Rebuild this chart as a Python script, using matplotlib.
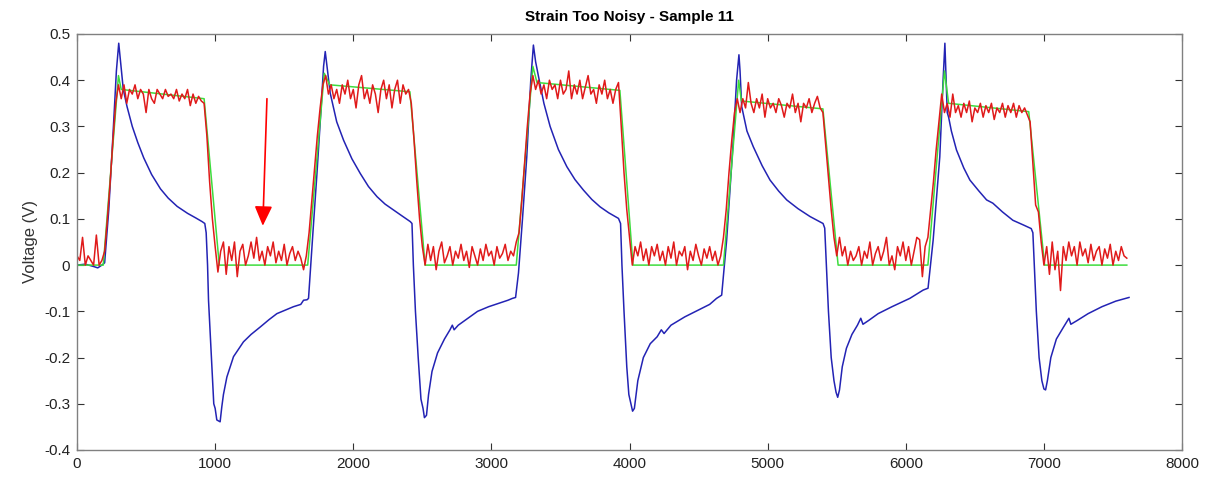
import numpy as np
import matplotlib
matplotlib.use("Agg")
import matplotlib.pyplot as plt

# blue voltage trace (vertices)
volt_x = [0, 60, 120, 150, 180, 200, 230, 260, 285, 302, 315, 335, 362, 400, 440, 483, 540, 604, 660, 725,
          800, 860, 906, 925, 935, 945, 952, 976, 990, 1000, 1012, 1036, 1048, 1060, 1085, 1133, 1205, 1260,
          1326, 1390, 1447, 1510, 1567, 1620, 1640, 1665, 1676,
          1688, 1710, 1737, 1765, 1785, 1797, 1810, 1833, 1880, 1930, 1990, 2051, 2110, 2172, 2230, 2292,
          2350, 2413, 2425, 2435, 2450, 2470, 2490, 2505, 2515, 2530, 2545, 2570, 2610, 2660, 2700, 2717,
          2730, 2760, 2830, 2900, 2980, 3060, 3120, 3152,
          3175, 3196, 3225, 3256, 3285, 3304, 3320, 3341, 3380, 3425, 3485, 3546, 3605, 3667, 3727, 3787,
          3850, 3920, 3935, 3945, 3960, 3980, 3995, 4010, 4022, 4035, 4060, 4100, 4150, 4200, 4230, 4250,
          4300, 4400, 4500, 4580, 4630, 4667,
          4703, 4751, 4775, 4792, 4800, 4812, 4850, 4896, 4960, 5017, 5080, 5138, 5220, 5307, 5401, 5413,
          5425, 5440, 5460, 5480, 5495, 5507, 5520, 5540, 5570, 5610, 5650, 5674, 5690, 5730, 5800, 5900,
          6029, 6126, 6161,
          6198, 6246, 6270, 6283, 6292, 6300, 6310, 6330, 6367, 6420, 6464, 6530, 6585, 6630, 6700, 6775,
          6850, 6908, 6920, 6930, 6945, 6965, 6985, 7000, 7012, 7025, 7050, 7090, 7140, 7181, 7195, 7240,
          7320, 7420, 7520, 7616]
volt_y = [0, 0.002, -0.003, -0.006, 0.0, 0.005, 0.12, 0.28, 0.42, 0.48, 0.44, 0.38, 0.343, 0.30, 0.265, 0.232,
          0.196, 0.165, 0.145, 0.127, 0.112, 0.102, 0.094, 0.09, 0.07, 0.0, -0.076, -0.22, -0.30, -0.31,
          -0.335, -0.339, -0.307, -0.28, -0.242, -0.198, -0.166, -0.15, -0.134, -0.118, -0.105, -0.097,
          -0.090, -0.085, -0.076, -0.075, -0.072,
          -0.018, 0.08, 0.198, 0.33, 0.43, 0.462, 0.43, 0.372, 0.31, 0.27, 0.23, 0.198, 0.17, 0.148, 0.132,
          0.119, 0.107, 0.094, 0.09, 0.0, -0.10, -0.20, -0.29, -0.31, -0.33, -0.325, -0.28, -0.23, -0.19,
          -0.16, -0.14, -0.13, -0.14, -0.13, -0.115, -0.10, -0.09, -0.082, -0.076, -0.072,
          -0.07, -0.017, 0.10, 0.234, 0.40, 0.476, 0.44, 0.408, 0.35, 0.30, 0.25, 0.213, 0.185, 0.162, 0.142,
          0.126, 0.113, 0.101, 0.09, 0.0, -0.10, -0.22, -0.28, -0.30, -0.316, -0.31, -0.25, -0.20, -0.17,
          -0.155, -0.14, -0.148, -0.13, -0.112, -0.097, -0.085, -0.072, -0.065,
          0.054, 0.27, 0.40, 0.455, 0.42, 0.343, 0.29, 0.256, 0.215, 0.184, 0.16, 0.141, 0.122, 0.105, 0.09,
          0.08, 0.0, -0.10, -0.20, -0.25, -0.275, -0.286, -0.27, -0.22, -0.18, -0.15, -0.13, -0.115, -0.128,
          -0.12, -0.105, -0.09, -0.072, -0.054, -0.05,
          0.054, 0.234, 0.40, 0.48, 0.40, 0.33, 0.32, 0.29, 0.249, 0.21, 0.184, 0.16, 0.141, 0.134, 0.115,
          0.097, 0.087, 0.079, 0.07, 0.0, -0.10, -0.20, -0.25, -0.268, -0.27, -0.25, -0.20, -0.16, -0.135,
          -0.115, -0.128, -0.12, -0.105, -0.09, -0.078, -0.07]

# green smoothed strain
smooth_x = [0, 190, 300, 320, 920, 1030, 1670, 1790, 1830, 2410, 2520, 3180, 3300, 3330, 3930, 4025,
            4680, 4790, 4810, 5400, 5510, 6160, 6280, 6310, 6890, 7005, 7600]
smooth_y = [0, 0, 0.41, 0.38, 0.36, 0, 0, 0.415, 0.39, 0.375, 0, 0, 0.43, 0.395, 0.378, 0,
            0, 0.40, 0.355, 0.338, 0, 0, 0.42, 0.35, 0.332, 0, 0]

# red raw strain, one value every 20 samples
strain_step = 20
strain = [
    0.02, 0.01, 0.06, 0.00, 0.02, 0.01, 0.00, 0.065, 0.00, 0.01,
    0.03, 0.10, 0.18, 0.27, 0.35, 0.39, 0.36, 0.39, 0.35, 0.38,
    0.37, 0.39, 0.36, 0.38, 0.37, 0.33, 0.38, 0.36, 0.35, 0.38,
    0.37, 0.36, 0.38, 0.365, 0.37, 0.36, 0.38, 0.355, 0.37, 0.36,
    0.38, 0.345, 0.37, 0.35, 0.365, 0.355, 0.35, 0.28, 0.18, 0.10,
    0.04, -0.015, 0.03, 0.05, -0.02, 0.04, 0.01, 0.05, -0.025, 0.03,
    0.045, 0.00, 0.02, 0.05, 0.015, 0.06, 0.01, 0.03, 0.00, 0.04,
    0.02, 0.05, 0.005, 0.03, 0.01, 0.045, 0.00, 0.025, 0.04, 0.01,
    0.03, 0.015, -0.01, 0.02, 0.07, 0.14, 0.21, 0.28, 0.34, 0.39,
    0.41, 0.37, 0.39, 0.36, 0.38, 0.35, 0.39, 0.37, 0.40, 0.36,
    0.38, 0.34, 0.39, 0.41, 0.36, 0.38, 0.35, 0.39, 0.37, 0.33,
    0.38, 0.40, 0.36, 0.39, 0.34, 0.38, 0.40, 0.35, 0.39, 0.37,
    0.38, 0.35, 0.27, 0.18, 0.10, 0.04, 0.00, 0.045, 0.01, 0.04,
    -0.01, 0.03, 0.05, 0.005, 0.02, 0.04, 0.00, 0.03, 0.015, 0.045,
    0.01, 0.03, -0.005, 0.04, 0.02, 0.00, 0.035, 0.01, 0.045, 0.02,
    0.03, 0.00, 0.04, 0.015, 0.025, 0.045, 0.01, 0.03, 0.02, 0.05,
    0.07, 0.14, 0.22, 0.30, 0.37, 0.41, 0.38, 0.40, 0.37, 0.39,
    0.36, 0.40, 0.38, 0.39, 0.36, 0.40, 0.37, 0.38, 0.42, 0.36,
    0.39, 0.37, 0.40, 0.36, 0.385, 0.41, 0.37, 0.38, 0.35, 0.39,
    0.37, 0.40, 0.36, 0.38, 0.35, 0.38, 0.395, 0.30, 0.20, 0.12,
    0.06, 0.00, 0.04, 0.02, 0.05, 0.01, 0.035, 0.00, 0.04, 0.02,
    0.045, 0.01, 0.03, 0.00, 0.04, 0.015, 0.05, 0.00, 0.03, 0.02,
    0.04, -0.01, 0.03, 0.01, 0.045, 0.02, 0.00, 0.035, 0.015, 0.04,
    0.01, 0.03, 0.00, 0.02, 0.06, 0.12, 0.20, 0.27, 0.33, 0.36,
    0.33, 0.36, 0.34, 0.395, 0.35, 0.33, 0.36, 0.34, 0.37, 0.32,
    0.36, 0.34, 0.35, 0.33, 0.36, 0.345, 0.32, 0.35, 0.34, 0.37,
    0.33, 0.35, 0.31, 0.35, 0.34, 0.36, 0.33, 0.35, 0.365, 0.34,
    0.33, 0.26, 0.19, 0.12, 0.06, 0.02, 0.06, 0.02, 0.04, 0.00,
    0.03, 0.01, 0.02, 0.04, 0.00, 0.03, 0.015, 0.05, 0.00, 0.025,
    0.04, 0.01, 0.03, 0.06, 0.00, 0.02, -0.01, 0.04, 0.02, 0.05,
    0.01, 0.04, 0.00, 0.03, 0.06, 0.055, -0.025, 0.04, 0.06, 0.12,
    0.18, 0.25, 0.31, 0.37, 0.33, 0.35, 0.32, 0.37, 0.33, 0.345,
    0.32, 0.35, 0.33, 0.355, 0.31, 0.34, 0.33, 0.35, 0.32, 0.345,
    0.33, 0.35, 0.315, 0.34, 0.33, 0.35, 0.32, 0.345, 0.33, 0.35,
    0.32, 0.345, 0.33, 0.34, 0.325, 0.31, 0.22, 0.13, 0.115, 0.05,
    0.00, 0.04, -0.02, 0.05, -0.01, 0.03, -0.055, 0.04, 0.01, 0.05,
    0.02, 0.04, 0.00, 0.05, 0.02, 0.035, 0.005, 0.045, 0.01, 0.03,
    0.04, 0.00, 0.035, 0.015, 0.045, 0.00, 0.03, 0.01, 0.04, 0.02,
    0.015,
]
strain_x = np.arange(len(strain)) * strain_step

x_ticks = [0, 1000, 2000, 3000, 4000, 5000, 6000, 7000, 8000]
y_ticks = [-0.4, -0.3, -0.2, -0.1, 0, 0.1, 0.2, 0.3, 0.4, 0.5]
y_labels = ['-0.4', '-0.3', '-0.2', '-0.1', '0', '0.1', '0.2', '0.3', '0.4', '0.5']

plt.rcParams['font.family'] = ['Liberation Sans', 'DejaVu Sans']

fig = plt.figure(figsize=(12.11, 4.82), dpi=100)
ax = fig.add_axes([0.0636, 0.0664, 0.9125, 0.8631])

ax.plot(volt_x, volt_y, color='#2323b4', lw=1.1)
ax.plot(smooth_x, smooth_y, color='#3ddc3d', lw=1.1)
ax.plot(strain_x, strain, color='#e01a1a', lw=1.1)

# arrow pointing at the noisy baseline
ax.annotate('', xy=(1345, 0.085), xytext=(1375, 0.36),
            arrowprops=dict(arrowstyle='-|>,head_width=0.45,head_length=1.0',
                            color='red', lw=1.2, mutation_scale=12, shrinkA=0, shrinkB=0))

ax.set_xlim(0, 8000)
ax.set_ylim(-0.4, 0.5)
ax.set_xticks(x_ticks)
ax.set_yticks(y_ticks)
ax.set_yticklabels(y_labels)
ax.tick_params(direction='in', top=True, right=True, length=5, width=0.8,
               color='#333333', labelsize=11, labelcolor='#222222', pad=5)
for s in ax.spines.values():
    s.set_color('#808080')
    s.set_linewidth(1.0)

ax.set_ylabel('Voltage (V)', fontsize=12, color='#333333', labelpad=4)
ax.set_title('Strain Too Noisy - Sample 11', fontsize=11, fontweight='bold', pad=9)

fig.savefig('out.png', dpi=100)
